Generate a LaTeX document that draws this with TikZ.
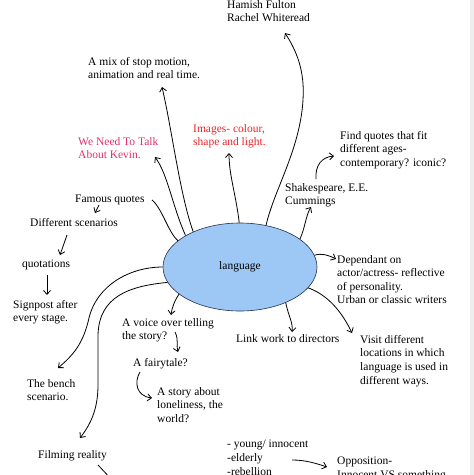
\documentclass[tikz,border=0pt]{standalone}
\usepackage{fontspec}
\setmainfont{Liberation Serif}
\usetikzlibrary{arrows.meta, shapes.geometric}
\definecolor{mmblue}{HTML}{9DC7F4}
\definecolor{mmedge}{HTML}{26314F}
\definecolor{mmpink}{HTML}{E3306A}
\definecolor{mmred}{HTML}{EA2328}
\definecolor{mmstrip}{HTML}{EEEEEE}

\begin{document}
\begin{tikzpicture}[x=1pt, y=-1pt,
    idea/.style={inner sep=0pt, anchor=north west, align=left,
                 font=\fontsize{11.5}{13.6}\selectfont},
    hub/.style={ellipse, draw=mmedge, fill=mmblue, line width=0.6pt, inner sep=0pt,
                minimum width=154pt, minimum height=88pt, font=\fontsize{11.5}{13.6}\selectfont},
    branch/.style={draw, line width=0.8pt, -{Straight Barb[length=4pt,width=7pt]}},
    stem/.style={draw, line width=0.8pt}]
  \useasboundingbox (0,0) rectangle (474,475);
  \fill[mmstrip] (470,0) rectangle (474,475);

  \node[hub] (lang) at (240,267) {language};

  \node[idea] (hamish) at (227,0) {Hamish Fulton\\Rachel Whiteread};
  \node[idea] (mix) at (88,57) {A mix of stop motion,\\animation and real time.};
  \node[idea, text=mmpink] (kevin) at (78,137) {We Need To Talk\\About Kevin.};
  \node[idea, text=mmred] (images) at (193,124) {Images- colour,\\shape and light.};
  \node[idea] (findq) at (340,131) {Find quotes that fit\\different ages-\\contemporary? iconic?};
  \node[idea] (shakes) at (285,183) {Shakespeare, E.E.\\Cummings};
  \node[idea] (depend) at (337,255)
    {Dependant on\\actor/actress- reflective\\of personality.\\Urban or classic writers};
  \node[idea] (visit) at (360,335)
    {Visit different\\locations in which\\language is used in\\different ways.};
  \node[idea] (dirs) at (236,334) {Link work to directors};
  \node[idea] (voice) at (122,318) {A voice over telling\\the story?};
  \node[idea] (fairy) at (133,358) {A fairytale?};
  \node[idea] (story) at (157,387) {A story about\\loneliness, the\\world?};
  \node[idea] (famous) at (75,195) {Famous quotes};
  \node[idea] (scen) at (30,218) {Different scenarios};
  \node[idea] (quot) at (22,260) {quotations};
  \node[idea] (signp) at (13,300) {Signpost after\\every stage.};
  \node[idea] (bench) at (27,379) {The bench\\scenario.};
  \node[idea] (film) at (38,450) {Filming reality};
  \node[idea] (young) at (227,440) {- young/ innocent\\-elderly\\-rebellion};
  \node[idea] (oppos) at (337,457) {Opposition-\\Innocent VS something};
  \coordinate (below) at (114,482);

  \draw[branch] (lang.58) .. controls (274,190) and (300,150) .. (303,100)
    .. controls (305,70) and (296,50) .. ([shift={(58,33)}]hamish.north west);
  \draw[branch] (lang.143) .. controls (180,195) and (172,130) .. ([shift={(74,30)}]mix.north west);
  \draw[branch] (lang.150) .. controls (172,205) and (168,175) .. ([shift={(77,20)}]kevin.north west);
  \draw[stem] ([shift={(77,5)}]famous.north west) .. controls (162,208) and (168,232) .. (lang.157);
  \draw[branch] (lang.91) .. controls (236,195) and (229,175) .. ([shift={(36,29)}]images.north west);
  \draw[branch] (lang.25) .. controls (305,228) and (306,215) .. ([shift={(26,24)}]shakes.north west);
  \draw[branch] ([shift={(31,-4)}]shakes.north west) .. controls (315,165) and (322,157)
    .. ([shift={(-6,25)}]findq.north west);
  \draw[branch] (lang.9) .. controls (322,253) and (328,255) .. ([shift={(-1,4)}]depend.north west);
  \draw[branch] (lang.343) .. controls (328,295) and (342,312) .. ([shift={(-8,-2)}]visit.north west);
  \draw[branch] (lang.322) .. controls (289,318) and (293,322) .. ([shift={(56,-2)}]dirs.north west);
  \draw[branch] (lang.204) .. controls (175,300) and (172,307) .. ([shift={(49,-3)}]voice.north west);
  \draw[branch] ([shift={(53,14)}]voice.north west) .. controls (179,340) and (176,345)
    .. ([shift={(45,-6)}]fairy.north west);
  \draw[branch] ([shift={(7,14)}]fairy.north west) .. controls (134,382) and (136,396)
    .. ([shift={(-5,11)}]story.north west);
  \draw[branch] ([shift={(24,10)}]famous.north west) -- ([shift={(65,-5)}]scen.north west);
  \draw[branch] ([shift={(37,17)}]scen.north west) -- ([shift={(38,-5)}]quot.north west);
  \draw[branch] ([shift={(25,15)}]quot.north west) -- ([shift={(34,-5)}]signp.north west);
  \draw[branch] (lang.180) .. controls (130,267) and (97,285) .. (89,318)
    .. controls (83,345) and (72,356) .. ([shift={(31,-11)}]bench.north west);
  \draw[branch] (lang.192) .. controls (130,286) and (99,296) .. (98,335) -- (98,385)
    .. controls (98,410) and (90,425) .. ([shift={(42,-12)}]film.north west);
  \draw[branch] ([shift={(60,15)}]film.north west) -- (below);
  \draw[branch] ([shift={(65,20)}]young.north west) .. controls (305,460) and (315,463)
    .. ([shift={(-10,10)}]oppos.north west);
\end{tikzpicture}
\end{document}
